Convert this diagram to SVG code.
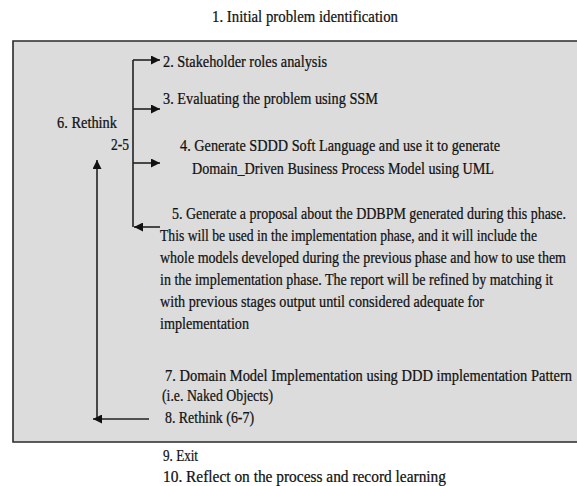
<svg xmlns="http://www.w3.org/2000/svg" width="577" height="486" viewBox="0 0 577 486">
<defs>
<style>
text{font-family:'Liberation Serif','Times New Roman',Times,serif;font-size:14px;fill:#111;stroke:#111;stroke-width:0.2}
.ln{stroke:#222;stroke-width:1.6;fill:none}
.bd{stroke:#2a2a2a;stroke-width:1.6;fill:none}
</style>
<marker id="ah" viewBox="0 0 10 10" refX="10" refY="5" markerWidth="10" markerHeight="9" markerUnits="userSpaceOnUse" orient="auto">
<path d="M0,0 L10,5 L0,10 z" fill="#111"/>
</marker>
</defs>
<rect width="577" height="486" fill="#fff"/>
<g id="step1"><text transform="translate(212,22) scale(1,1.24)" textLength="186" lengthAdjust="spacingAndGlyphs">1.   Initial problem identification</text></g>
<g id="phase-box"><rect x="13" y="41" width="564" height="401" fill="#dcdcdc"/><path class="bd" d="M577,41 H13 V442 H577"/></g>
<g id="connectors">
<path class="ln" d="M133,60 V227"/>
<path class="ln" d="M133,60 H160" marker-end="url(#ah)"/>
<path class="ln" d="M133,109 H160" marker-end="url(#ah)"/>
<path class="ln" d="M133,163 H160" marker-end="url(#ah)"/>
<path class="ln" d="M160,227 H134" marker-end="url(#ah)"/>
<path class="ln" d="M97,419 V160" marker-end="url(#ah)"/>
<path class="ln" d="M149,419 H93" marker-end="url(#ah)"/>
</g>
<g id="step2"><text transform="translate(163,67) scale(1,1.24)" textLength="164" lengthAdjust="spacingAndGlyphs">2.  Stakeholder roles analysis</text></g>
<g id="step3"><text transform="translate(163,104) scale(1,1.24)" textLength="215" lengthAdjust="spacingAndGlyphs">3.  Evaluating the problem using SSM</text></g>
<g id="step6"><text transform="translate(57,128) scale(1,1.24)" textLength="60" lengthAdjust="spacingAndGlyphs">6. Rethink</text><text transform="translate(111,150) scale(1,1.24)" textLength="18" lengthAdjust="spacingAndGlyphs">2-5</text></g>
<g id="step4"><text transform="translate(180,151) scale(1,1.24)" textLength="320" lengthAdjust="spacingAndGlyphs">4.   Generate SDDD Soft Language and use it to generate</text><text transform="translate(192,174) scale(1,1.24)" textLength="302" lengthAdjust="spacingAndGlyphs">Domain_Driven Business Process Model using UML</text></g>
<g id="step5">
<text transform="translate(172,219) scale(1,1.24)" textLength="394" lengthAdjust="spacingAndGlyphs">5. Generate a proposal about the DDBPM generated during this phase.</text>
<text transform="translate(160,241) scale(1,1.24)" textLength="377" lengthAdjust="spacingAndGlyphs">This will be used in the implementation phase, and it will include the</text>
<text transform="translate(160,263) scale(1,1.24)" textLength="406" lengthAdjust="spacingAndGlyphs">whole models developed during the previous phase and how to use them</text>
<text transform="translate(160,285) scale(1,1.24)" textLength="393" lengthAdjust="spacingAndGlyphs">in the implementation phase. The report will be refined by matching it</text>
<text transform="translate(160,307) scale(1,1.24)" textLength="324" lengthAdjust="spacingAndGlyphs">with previous stages output until considered adequate for</text>
<text transform="translate(160,329) scale(1,1.24)" textLength="89" lengthAdjust="spacingAndGlyphs">implementation</text>
</g>
<g id="step7"><text transform="translate(165,381) scale(1,1.24)" textLength="407" lengthAdjust="spacingAndGlyphs">7. Domain Model Implementation using DDD implementation Pattern</text><text transform="translate(162,401) scale(1,1.24)" textLength="111" lengthAdjust="spacingAndGlyphs">(i.e. Naked Objects)</text></g>
<g id="step8"><text transform="translate(165,423) scale(1,1.24)" textLength="89" lengthAdjust="spacingAndGlyphs">8. Rethink (6-7)</text></g>
<g id="step9"><text transform="translate(163,461) scale(1,1.24)" textLength="35" lengthAdjust="spacingAndGlyphs">9. Exit</text></g>
<g id="step10"><text transform="translate(163,482) scale(1,1.24)" textLength="283" lengthAdjust="spacingAndGlyphs">10. Reflect on the process and record learning</text></g>
</svg>
